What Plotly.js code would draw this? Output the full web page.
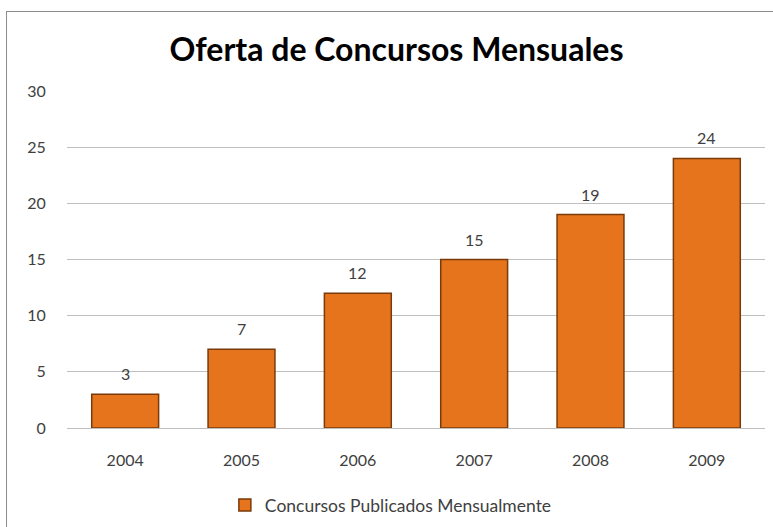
<!DOCTYPE html>
<html>
<head>
<meta charset="utf-8">
<script src="https://cdn.plot.ly/plotly-3.0.1.min.js"></script>
<style>
html,body{margin:0;padding:0;background:#fff;}
#wrap{position:relative;width:773px;height:527px;overflow:hidden;}
#frame{position:absolute;left:6px;top:11px;width:800px;height:600px;border:1px solid #8c8c8c;box-sizing:border-box;pointer-events:none;}
#chart{position:absolute;left:0;top:0;width:773px;height:527px;}
</style>
</head>
<body>
<div id="wrap"><div id="chart"></div><div id="frame"></div></div>
<script>
const years = ['2004','2005','2006','2007','2008','2009'];
const values = [3, 7, 12, 15, 19, 24];
const seriesName = 'Concursos Publicados Mensualmente';
const chartTitle = 'Oferta de Concursos Mensuales';
const yTicks = [0, 5, 10, 15, 20, 25, 30];

const font = 'Lato, "Open Sans", "DejaVu Sans", sans-serif';

const trace = {
  type: 'bar',
  x: years,
  y: values,
  name: seriesName,
  width: 0.575,
  marker: {
    color: '#E5741C',
    line: {color: '#7A3A0A', width: 1.5}
  },
  hoverinfo: 'x+y',
  showlegend: true
};

// data labels: category index on the category axis, value on the y axis
const annotations = values.map((v, i) => ({
  x: i, y: v, xref: 'x', yref: 'y',
  text: String(v), showarrow: false,
  yanchor: 'bottom', yshift: 9,
  font: {family: font, size: 16, color: '#404040'}
}));

const layout = {
  width: 773, height: 527,
  paper_bgcolor: '#ffffff', plot_bgcolor: '#ffffff',
  margin: {l: 67, r: 8, t: 91, b: 99},
  title: {
    text: '<b>' + chartTitle + '</b>',
    font: {family: font, size: 32, color: '#000000'},
    x: 0.513, xanchor: 'center',
    y: 1 - 50/527, yref: 'container', yanchor: 'middle'
  },
  xaxis: {
    type: 'category',
    categoryorder: 'array', categoryarray: years,
    range: [-0.5, years.length - 0.5],
    showgrid: false, showline: false, zeroline: false,
    ticks: 'outside', ticklen: 18, tickcolor: 'rgba(0,0,0,0)',
    tickfont: {family: font, size: 16, color: '#404040'}
  },
  yaxis: {
    range: [0, 30],
    tickvals: yTicks,
    showgrid: true, gridcolor: '#BFBFBF', gridwidth: 1,
    zeroline: true, zerolinecolor: '#BFBFBF', zerolinewidth: 1,
    showline: false,
    ticks: 'outside', ticklen: 17, tickcolor: 'rgba(0,0,0,0)',
    tickfont: {family: font, size: 16, color: '#404040'}
  },
  showlegend: true,
  legend: {
    orientation: 'h',
    x: 0.464, xanchor: 'center',
    y: 1 - 505/527, yref: 'container', yanchor: 'middle',
    font: {family: font, size: 17.5, color: '#404040'}
  },
  annotations: annotations
};

Plotly.newPlot('chart', [trace], layout, {displayModeBar: false, staticPlot: true});
</script>
</body>
</html>
